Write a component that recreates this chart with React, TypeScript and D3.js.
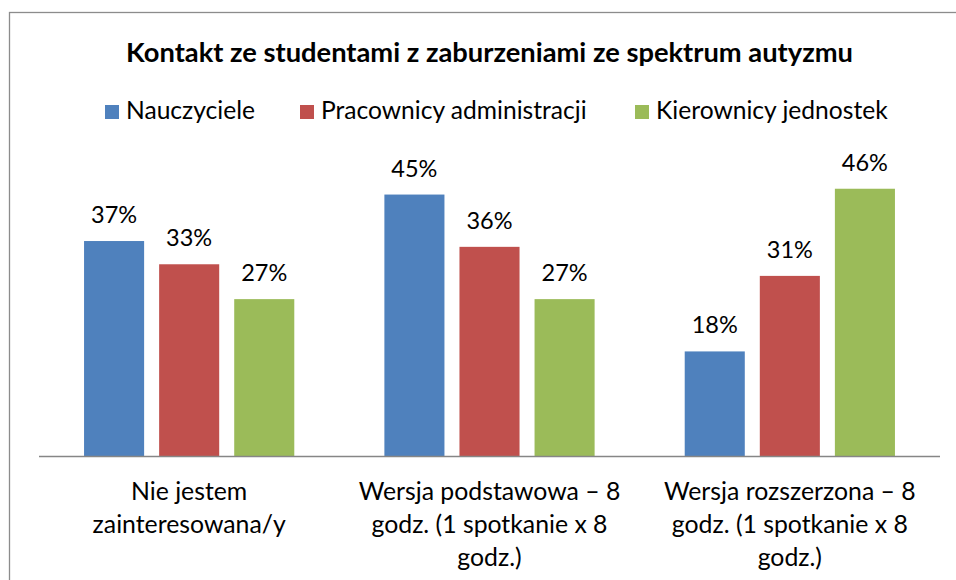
import React, { useEffect, useRef } from "react";
import * as d3 from "d3";

const title = "Kontakt ze studentami z zaburzeniami ze spektrum autyzmu";
const categories = ["Nie jestem zainteresowana/y", "Wersja podstawowa", "Wersja rozszerzona"];
const categoryLines = [
  ["Nie jestem", "zainteresowana/y"],
  ["Wersja podstawowa – 8", "godz. (1 spotkanie x 8", "godz.)"],
  ["Wersja rozszerzona – 8", "godz. (1 spotkanie x 8", "godz.)"],
];
const seriesNames = ["Nauczyciele", "Pracownicy administracji", "Kierownicy jednostek"];
const seriesColors = ["#4F81BD", "#C0504D", "#9BBB59"];
const nauczyciele = [0.37, 0.45, 0.18];
const pracownicy = [0.33, 0.36, 0.31];
const kierownicy = [0.27, 0.27, 0.46];
const seriesValues = [nauczyciele, pracownicy, kierownicy];

const W = 956;
const H = 580;
const FONT = "Lato, 'Open Sans', sans-serif";

export default function App() {
  const ref = useRef<SVGSVGElement>(null);

  useEffect(() => {
    const svg = d3.select(ref.current);
    svg.selectAll("*").remove();

    // frame
    svg.append("rect").attr("x", 9.5).attr("y", 12.5).attr("width", 960).attr("height", 600)
      .attr("fill", "white").attr("stroke", "#8c8c8c").attr("stroke-width", 1.3);

    svg.append("text").attr("x", 489.5).attr("y", 61.5).attr("text-anchor", "middle")
      .attr("font-family", FONT).attr("font-weight", "bold").attr("font-size", 27.3)
      .attr("fill", "#000").text(title);

    // legend
    const legendX = [105, 300, 635];
    seriesNames.forEach((n, i) => {
      svg.append("rect").attr("x", legendX[i]).attr("y", 105).attr("width", 14).attr("height", 14)
        .attr("fill", seriesColors[i]);
      svg.append("text").attr("x", legendX[i] + 21).attr("y", 119).attr("font-family", FONT)
        .attr("font-size", 24.6).attr("fill", "#000").text(n);
    });

    const x0 = d3.scaleBand<string>().domain(categories).range([39, 940]).padding(0);
    const x1 = d3.scaleBand<string>().domain(seriesNames).range([0, x0.bandwidth()])
      .paddingInner(0.2).paddingOuter(0.6);
    const y = d3.scaleLinear().domain([0, 0.5]).range([456, 165.5]);

    const g = svg.append("g");
    categories.forEach((c, ci) => {
      seriesNames.forEach((s, si) => {
        const v = seriesValues[si][ci];
        const bx = (x0(c) as number) + (x1(s) as number);
        g.append("rect").attr("x", bx).attr("y", y(v)).attr("width", x1.bandwidth())
          .attr("height", y(0) - y(v)).attr("fill", seriesColors[si]);
        g.append("text").attr("x", bx + x1.bandwidth() / 2).attr("y", y(v) - 18)
          .attr("text-anchor", "middle").attr("font-family", FONT).attr("font-size", 23.5)
          .attr("fill", "#000").text(d3.format(".0%")(v));
      });
    });

    // axis
    svg.append("line").attr("x1", 39).attr("x2", 940).attr("y1", 456.5).attr("y2", 456.5)
      .attr("stroke", "#868686").attr("stroke-width", 1.3);

    categories.forEach((c, ci) => {
      const cx = (x0(c) as number) + x0.bandwidth() / 2;
      const t = svg.append("text").attr("text-anchor", "middle").attr("font-family", FONT)
        .attr("font-size", 24.8).attr("fill", "#000");
      categoryLines[ci].forEach((line, li) => {
        t.append("tspan").attr("x", cx).attr("y", 499.5 + li * 33).text(line);
      });
    });
  }, []);

  return (
    <svg ref={ref} width={W} height={H}
      style={{ position: "absolute", left: 0, top: 0, display: "block", background: "white" }} />
  );
}
